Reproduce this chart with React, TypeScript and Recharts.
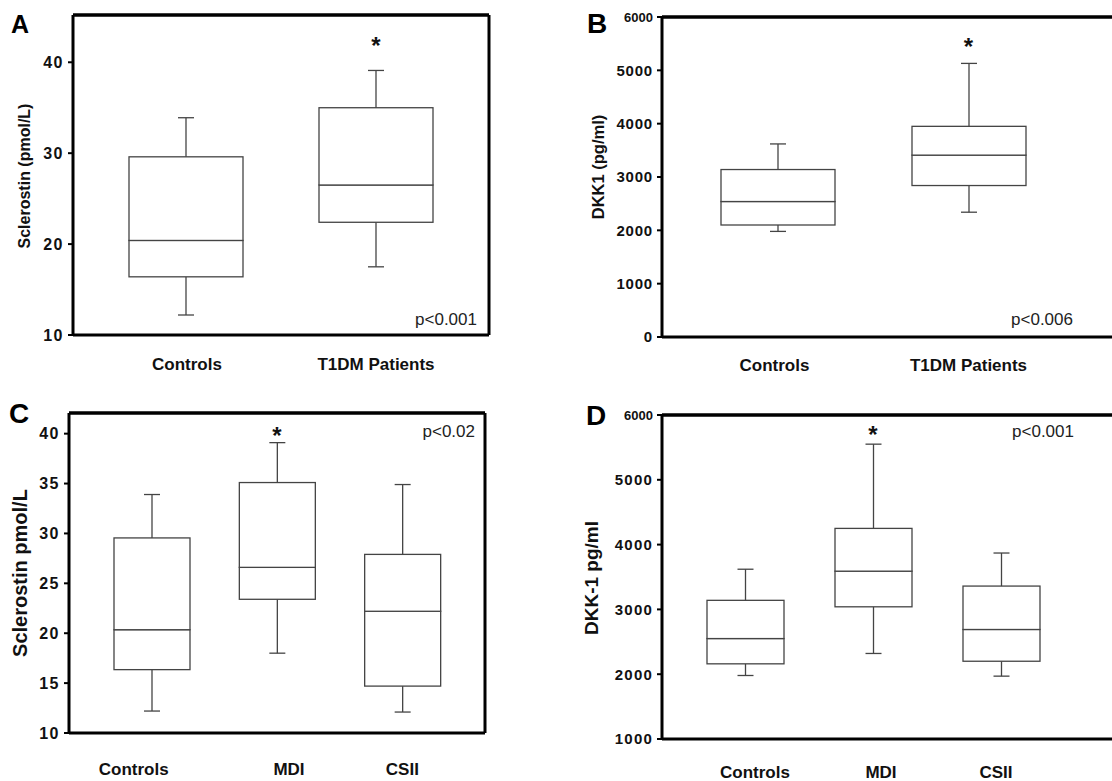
import React from "react";
import {
  ComposedChart,
  Bar,
  XAxis,
  YAxis,
  ReferenceDot,
  ReferenceLine,
} from "recharts";

// categories
const groupsAB = ["Controls", "T1DM Patients"];
const groupsCD = ["Controls", "MDI", "CSII"];

// A - sclerostin, controls vs T1DM
const aMin = [12.2, 17.5];
const aQ1 = [16.4, 22.4];
const aMed = [20.4, 26.5];
const aQ3 = [29.6, 35.0];
const aMax = [33.9, 39.1];
const aTicks = [10, 20, 30, 40];

// B - DKK1, controls vs T1DM
const bMin = [1980, 2340];
const bQ1 = [2100, 2840];
const bMed = [2540, 3410];
const bQ3 = [3140, 3950];
const bMax = [3620, 5130];
const bTicks = [0, 1000, 2000, 3000, 4000, 5000, 6000];

// C - sclerostin by treatment
const cMin = [12.2, 18.0, 12.1];
const cQ1 = [16.35, 23.4, 14.7];
const cMed = [20.35, 26.6, 22.2];
const cQ3 = [29.55, 35.1, 27.9];
const cMax = [33.9, 39.1, 34.9];
const cTicks = [10, 15, 20, 25, 30, 35, 40];

// D - DKK-1 by treatment
const dMin = [1980, 2320, 1970];
const dQ1 = [2160, 3040, 2200];
const dMed = [2550, 3590, 2690];
const dQ3 = [3140, 4250, 3360];
const dMax = [3620, 5550, 3870];
const dTicks = [1000, 2000, 3000, 4000, 5000, 6000];

const FONT = '"Liberation Sans", Arial, Helvetica, sans-serif';
const BOX = "#444";

function toRows(names: string[], mn: number[], q1: number[], md: number[], q3: number[], mx: number[]) {
  return names.map((name, i) => ({
    name,
    base: mn[i],
    lw: q1[i] - mn[i],
    lb: md[i] - q1[i],
    ub: q3[i] - md[i],
    uw: mx[i] - q3[i],
  }));
}

const CAP = 8;

function LowWhisker(p: any) {
  const cx = p.x + p.width / 2;
  return (
    <g stroke={BOX} strokeWidth={1.3}>
      <line x1={cx} x2={cx} y1={p.y} y2={p.y + p.height} />
      <line x1={cx - CAP} x2={cx + CAP} y1={p.y + p.height} y2={p.y + p.height} />
    </g>
  );
}

function HighWhisker(p: any) {
  const cx = p.x + p.width / 2;
  return (
    <g stroke={BOX} strokeWidth={1.3}>
      <line x1={cx} x2={cx} y1={p.y} y2={p.y + p.height} />
      <line x1={cx - CAP} x2={cx + CAP} y1={p.y} y2={p.y} />
    </g>
  );
}

function BoxPart(p: any) {
  return <rect x={p.x} y={p.y} width={p.width} height={p.height} fill="#fff" stroke={BOX} strokeWidth={1.3} />;
}

type PanelProps = {
  rows: any[];
  domain: [number, number];
  ticks: number[];
  box: { left: number; top: number; width: number; height: number };
  margin: { top: number; right: number; bottom: number; left: number };
  yWidth: number;
  xHeight: number;
  pad: { left: number; right: number };
  barSize: number;
  labelDx: number[];
  labelDy: number;
  tickFont: number;
  tickSpacing: number;
  topTickFont?: number;
  yLabel: string;
  yLabelFont: number;
  yLabelX: number;
  yLabelDy: number;
  star: { name: string; y: number };
};

function Panel(props: PanelProps) {
  const { rows, domain, ticks } = props;
  const top = ticks[ticks.length - 1];

  const yTick = (t: any) => {
    const small = props.topTickFont && t.payload.value === top;
    return (
      <text
        x={t.x}
        y={t.y}
        dy="0.36em"
        textAnchor="end"
        fontFamily={FONT}
        fontWeight={700}
        fontSize={small ? props.topTickFont : props.tickFont}
        letterSpacing={small ? 0 : props.tickSpacing}
        fill="#111"
        stroke="none"
      >
        {t.payload.value}
      </text>
    );
  };

  const xTick = (t: any) => (
    <text
      x={t.x + (props.labelDx[t.index] || 0)}
      y={t.y + props.labelDy}
      textAnchor="middle"
      fontFamily={FONT}
      fontWeight={700}
      fontSize={17}
      fill="#111"
      stroke="none"
    >
      {t.payload.value}
    </text>
  );

  const yLabel = (l: any) => {
    const vb = l.viewBox;
    const cx = vb.x + props.yLabelX;
    const cy = vb.y + vb.height / 2 + props.yLabelDy;
    return (
      <text
        x={cx}
        y={cy}
        transform={`rotate(-90 ${cx} ${cy})`}
        textAnchor="middle"
        dominantBaseline="central"
        fontFamily={FONT}
        fontWeight={700}
        fontSize={props.yLabelFont}
        fill="#111"
        stroke="none"
      >
        {props.yLabel}
      </text>
    );
  };

  const axisLine = { stroke: "#000", strokeWidth: 3 };

  return (
    <div style={{ position: "absolute", ...props.box }}>
      <ComposedChart
        width={props.box.width}
        height={props.box.height}
        data={rows}
        margin={props.margin}
        barSize={props.barSize}
      >
        <XAxis
          dataKey="name"
          height={props.xHeight}
          padding={props.pad}
          stroke="#000"
          strokeWidth={3}
          axisLine={axisLine}
          tickLine={false}
          tickSize={0}
          tickMargin={0}
          interval={0}
          tick={xTick}
        />
        <XAxis
          xAxisId="top"
          dataKey="name"
          orientation="top"
          height={1}
          stroke="#000"
          strokeWidth={3}
          axisLine={axisLine}
          tickLine={false}
          tick={false}
        />
        <YAxis
          domain={domain}
          ticks={ticks}
          allowDataOverflow
          width={props.yWidth}
          stroke="#000"
          strokeWidth={3}
          axisLine={axisLine}
          tickLine={{ stroke: "#000", strokeWidth: 2 }}
          tickSize={5}
          tickMargin={4}
          interval={0}
          tick={yTick}
          label={{ content: yLabel }}
        />
        <YAxis
          yAxisId="right"
          orientation="right"
          domain={domain}
          allowDataOverflow
          width={1}
          stroke="#000"
          strokeWidth={3}
          axisLine={axisLine}
          tickLine={false}
          tick={false}
        />
        <ReferenceLine y={domain[1]} stroke="#000" strokeWidth={3} ifOverflow="visible" />
        <Bar dataKey="base" stackId="s" fill="none" isAnimationActive={false} />
        <Bar dataKey="lw" stackId="s" shape={(p: any) => <LowWhisker {...p} />} isAnimationActive={false} />
        <Bar dataKey="lb" stackId="s" shape={(p: any) => <BoxPart {...p} />} isAnimationActive={false} />
        <Bar dataKey="ub" stackId="s" shape={(p: any) => <BoxPart {...p} />} isAnimationActive={false} />
        <Bar dataKey="uw" stackId="s" shape={(p: any) => <HighWhisker {...p} />} isAnimationActive={false} />
        <ReferenceDot
          x={props.star.name}
          y={props.star.y}
          r={0}
          ifOverflow="visible"
          shape={(p: any) => (
            <text
              x={p.cx}
              y={p.cy}
              dy={13}
              textAnchor="middle"
              fontFamily={FONT}
              fontWeight={700}
              fontSize={24}
              fill="#111"
            >
              *
            </text>
          )}
        />
      </ComposedChart>
    </div>
  );
}

const notes = [
  { t: "A", x: 11, y: 33, s: 25 },
  { t: "B", x: 587, y: 33, s: 28 },
  { t: "C", x: 9, y: 423, s: 28 },
  { t: "D", x: 586, y: 425, s: 28 },
];
const pNotes = [
  { t: "p<0.001", x: 477, y: 325 },
  { t: "p<0.006", x: 1073, y: 325 },
  { t: "p<0.02", x: 475, y: 437 },
  { t: "p<0.001", x: 1074, y: 437 },
];

export default function App() {
  return (
    <div
      style={{
        position: "fixed",
        left: 0,
        top: 0,
        width: 1112,
        height: 781,
        overflow: "hidden",
        background: "#fff",
      }}
    >
      <Panel
        rows={toRows(groupsAB, aMin, aQ1, aMed, aQ3, aMax)}
        domain={[10, 45.2]}
        ticks={aTicks}
        box={{ left: 0, top: 0, width: 500, height: 390 }}
        margin={{ top: 14, right: 10, bottom: 0, left: 0 }}
        yWidth={73}
        xHeight={55}
        pad={{ left: 18, right: 18 }}
        barSize={114}
        labelDx={[1, 0]}
        labelDy={35}
        tickFont={16}
        tickSpacing={1.5}
        yLabel="Sclerostin (pmol/L)"
        yLabelFont={16}
        yLabelX={24}
        yLabelDy={1}
        star={{ name: "T1DM Patients", y: 42.3 }}
      />
      <Panel
        rows={toRows(groupsAB, bMin, bQ1, bMed, bQ3, bMax)}
        domain={[0, 6000]}
        ticks={bTicks}
        box={{ left: 556, top: 0, width: 575, height: 390 }}
        margin={{ top: 16, right: 0, bottom: 0, left: 0 }}
        yWidth={106}
        xHeight={53}
        pad={{ left: 20, right: 66 }}
        barSize={114}
        labelDx={[-3, 0]}
        labelDy={34}
        tickFont={15}
        tickSpacing={0.8}
        topTickFont={13}
        yLabel="DKK1 (pg/ml)"
        yLabelFont={16.5}
        yLabelX={42}
        yLabelDy={-10}
        star={{ name: "T1DM Patients", y: 5537 }}
      />
      <Panel
        rows={toRows(groupsCD, cMin, cQ1, cMed, cQ3, cMax)}
        domain={[10, 42.07]}
        ticks={cTicks}
        box={{ left: 0, top: 390, width: 500, height: 391 }}
        margin={{ top: 22, right: 14, bottom: 0, left: 0 }}
        yWidth={69}
        xHeight={48}
        pad={{ left: 20, right: 20 }}
        barSize={76}
        labelDx={[-18, 12, 0]}
        labelDy={42}
        tickFont={16}
        tickSpacing={1.5}
        yLabel="Sclerostin pmol/L"
        yLabelFont={20}
        yLabelX={20}
        yLabelDy={0}
        star={{ name: "MDI", y: 40.25 }}
      />
      <Panel
        rows={toRows(groupsCD, dMin, dQ1, dMed, dQ3, dMax)}
        domain={[1000, 6000]}
        ticks={dTicks}
        box={{ left: 556, top: 390, width: 581, height: 391 }}
        margin={{ top: 24, right: 0, bottom: 0, left: 0 }}
        yWidth={106}
        xHeight={42}
        pad={{ left: 19, right: 71 }}
        barSize={77}
        labelDx={[10, 8, -5]}
        labelDy={39}
        tickFont={15}
        tickSpacing={1.2}
        topTickFont={13}
        yLabel="DKK-1 pg/ml"
        yLabelFont={19}
        yLabelX={35}
        yLabelDy={1}
        star={{ name: "MDI", y: 5769 }}
      />
      <svg
        width={1112}
        height={781}
        style={{ position: "absolute", left: 0, top: 0, pointerEvents: "none" }}
      >
        {notes.map((n) => (
          <text key={n.t} x={n.x} y={n.y} fontFamily={FONT} fontWeight={700} fontSize={n.s} fill="#000">
            {n.t}
          </text>
        ))}
        {pNotes.map((n, i) => (
          <text key={i} x={n.x} y={n.y} textAnchor="end" fontFamily={FONT} fontSize={17} fill="#222">
            {n.t}
          </text>
        ))}
      </svg>
    </div>
  );
}
